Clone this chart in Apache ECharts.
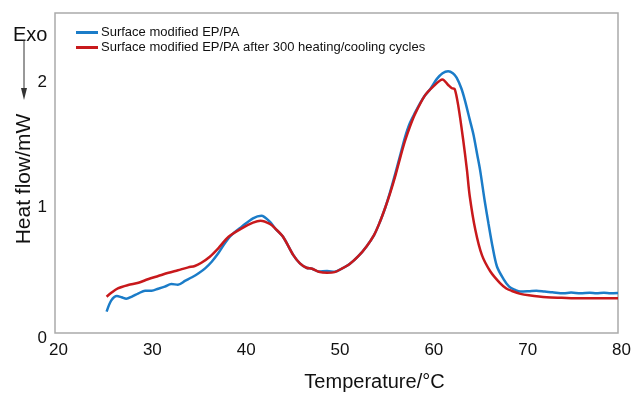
<!DOCTYPE html>
<html>
<head>
<meta charset="utf-8">
<script src="https://cdn.jsdelivr.net/npm/echarts@6/dist/echarts.min.js"></script>
<style>
  html, body { margin: 0; padding: 0; background: #fff; }
  #chart { width: 633px; height: 398px; }
</style>
</head>
<body>
<div id="chart"></div>
<script>
// DSC curves
const seriesNames = ['Surface modified EP/PA', 'Surface modified EP/PA after 300 heating/cooling cycles'];
const xTicks = [20, 30, 40, 50, 60, 70, 80];
const yTicks = [0, 1, 2];

const tempBlue = [25.5, 26.0, 26.6, 27.1, 27.6, 28.2, 28.9, 29.6, 30.3, 31.0, 31.7, 32.4, 33.1, 33.9, 34.6,
  35.3, 36.0, 36.7, 37.4, 38.1, 38.8, 39.9, 41.1, 42.0, 42.9, 43.5, 44.3, 45.4, 46.1, 46.8, 47.4, 48.1,
  49.0, 49.8, 50.5, 51.4, 52.3, 53.2, 54.0, 54.6, 55.2, 55.7, 56.3, 56.8, 57.3, 57.8, 58.4, 58.9, 59.4,
  60.0, 60.7, 61.3, 61.9, 62.4, 62.8, 63.3, 63.7, 64.2, 64.6, 65.0, 65.3, 65.8, 66.2, 66.6, 67.1, 67.8,
  68.4, 69.0, 69.6, 70.5, 71.3, 72.2, 73.0, 74.2, 75.0, 76.0, 77.0, 77.7, 78.5, 79.2, 80.0];
const heatBlue = [0.17, 0.26, 0.295, 0.285, 0.273, 0.29, 0.316, 0.337, 0.337, 0.353, 0.37, 0.39, 0.385, 0.417, 0.444,
  0.476, 0.515, 0.568, 0.635, 0.715, 0.78, 0.847, 0.914, 0.935, 0.887, 0.83, 0.767, 0.62, 0.555, 0.52, 0.512, 0.49,
  0.494, 0.488, 0.51, 0.55, 0.61, 0.69, 0.78, 0.88, 1.0, 1.12, 1.28, 1.42, 1.56, 1.67, 1.76, 1.83, 1.89,
  1.945, 2.025, 2.07, 2.085, 2.07, 2.035, 1.95, 1.85, 1.70, 1.58, 1.42, 1.30, 1.05, 0.87, 0.70, 0.53, 0.43,
  0.37, 0.345, 0.33, 0.333, 0.337, 0.33, 0.325, 0.316, 0.322, 0.316, 0.32, 0.316, 0.32, 0.316, 0.318];

const tempRed = [25.5, 26.0, 26.7, 27.8, 28.9, 29.9, 31.0, 32.1, 33.1, 34.2, 34.9, 35.6, 36.5, 37.4, 38.5,
  39.9, 41.1, 41.9, 42.9, 43.5, 44.3, 45.4, 46.1, 46.8, 47.4, 48.1, 49.0, 49.8, 50.5, 51.4, 52.3, 53.2,
  54.0, 54.6, 55.2, 55.7, 56.3, 56.8, 57.3, 57.8, 58.4, 59.4, 60.3, 61.3, 61.9, 62.3, 62.6, 63.0, 63.5,
  63.9, 64.2, 64.8, 65.5, 66.4, 67.4, 68.1, 68.7, 69.6, 70.5, 72.4, 74.0, 76.0, 78.0, 80.0];
const heatRed = [0.289, 0.321, 0.356, 0.382, 0.40, 0.428, 0.454, 0.48, 0.50, 0.523, 0.534, 0.56, 0.608, 0.675, 0.767,
  0.834, 0.879, 0.895, 0.869, 0.83, 0.767, 0.62, 0.555, 0.52, 0.512, 0.488, 0.48, 0.485, 0.51, 0.55, 0.61, 0.69,
  0.78, 0.88, 1.0, 1.11, 1.26, 1.40, 1.53, 1.64, 1.75, 1.89, 1.963, 2.02, 1.976, 1.95, 1.944, 1.80, 1.54,
  1.30, 1.09, 0.82, 0.62, 0.49, 0.40, 0.355, 0.335, 0.312, 0.30, 0.284, 0.28, 0.276, 0.276, 0.276];

const toPairs = (xs, ys) => xs.map((x, i) => [x, ys[i]]);

const myChart = echarts.init(document.getElementById('chart'));
const font = 'Liberation Sans, Arial, Helvetica, sans-serif';

const option = {
  animation: false,
  textStyle: { fontFamily: font },
  grid: {
    left: 55, right: 15, top: 13, bottom: 65,
    outerBoundsMode: 'none',
    show: true, borderColor: '#aaaaaa', borderWidth: 1.5
  },
  legend: {
    orient: 'vertical',
    left: 71, top: 21,
    itemWidth: 22, itemHeight: 3, itemGap: 2,
    icon: 'rect',
    textStyle: { fontSize: 13, color: '#111', fontFamily: font, padding: [0, 0, 0, -2] },
    data: seriesNames
  },
  xAxis: {
    type: 'value',
    min: 20, max: 80, interval: 10,
    axisLine: { show: false },
    axisTick: { show: false },
    splitLine: { show: false },
    axisLabel: { fontSize: 17, color: '#111', margin: 9, padding: [0, 0, 0, 7],
      formatter: v => xTicks.includes(v) ? String(v) : '' },
    name: 'Temperature/°C',
    nameLocation: 'middle',
    nameGap: 39,
    nameMoveOverlap: false,
    nameTextStyle: { fontSize: 20, color: '#111', padding: [0, 0, 0, 76] }
  },
  yAxis: {
    type: 'value',
    min: 0, max: 2.55, interval: 1,
    axisLine: { show: false },
    axisTick: { show: false },
    splitLine: { show: false },
    axisLabel: {
      fontSize: 17, color: '#111', margin: 8, showMaxLabel: false,
      formatter: v => yTicks.includes(v) ? (v === 0 ? '{z|0}' : String(v)) : '',
      rich: { z: { fontSize: 17, color: '#111', padding: [10, 0, 0, 0] } }
    },
    name: 'Heat flow/mW',
    nameLocation: 'middle',
    nameGap: 20,
    nameMoveOverlap: false,
    nameTextStyle: { fontSize: 21, color: '#111', padding: [0, 12, 0, 0] }
  },
  graphic: [
    { type: 'text', left: 13, top: 25, style: { text: 'Exo', fontSize: 20, fill: '#111', fontFamily: font } },
    { type: 'line', shape: { x1: 24, y1: 40, x2: 24, y2: 96 }, style: { stroke: '#333', lineWidth: 1 } },
    { type: 'polygon', shape: { points: [[21, 88], [27, 88], [24, 100]] }, style: { fill: '#333' } }
  ],
  series: [
    {
      name: seriesNames[0],
      type: 'line',
      showSymbol: false,
      smooth: 0.3,
      data: toPairs(tempBlue, heatBlue),
      itemStyle: { color: '#1b7cc8' },
      lineStyle: { color: '#1b7cc8', width: 2.5 }
    },
    {
      name: seriesNames[1],
      type: 'line',
      showSymbol: false,
      smooth: 0.3,
      data: toPairs(tempRed, heatRed),
      itemStyle: { color: '#c8191c' },
      lineStyle: { color: '#c8191c', width: 2.5 }
    }
  ]
};

myChart.setOption(option);
window.addEventListener('resize', () => {
  myChart.resize();
});
</script>
</body>
</html>
